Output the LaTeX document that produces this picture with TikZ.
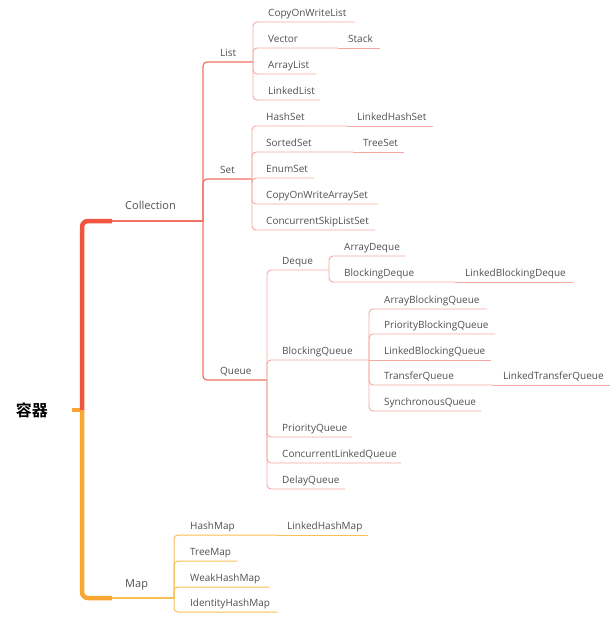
\documentclass[tikz,border=0pt]{standalone}
\usepackage{fontspec}
\setmainfont{Open Sans}
\newfontfamily\cjkbold{Noto Sans CJK SC Bold}
\definecolor{txtgray}{HTML}{505050}
\definecolor{trunkred}{HTML}{F2553F}
\definecolor{trunkorg}{HTML}{F9A732}
\definecolor{lonered}{HTML}{EF7264}
\definecolor{ltwopink}{HTML}{F4A8A0}
\definecolor{maporg}{HTML}{F8BF55}
\tikzset{
  lbl/.style={font=\fontsize{10}{12}\selectfont, text=txtgray, inner sep=0pt, anchor=base west},
  lblbig/.style={font=\fontsize{11}{13}\selectfont, text=txtgray, inner sep=0pt, anchor=base west},
  redone/.style={draw=lonered, line width=1.2pt, rounded corners=4pt},
  pinktwo/.style={draw=ltwopink, line width=0.9pt, rounded corners=4pt},
  orgtwo/.style={draw=maporg, line width=1pt, rounded corners=4pt},
}
\newcommand\mmkid[7]{%
  \node[lbl] (#1) at (#3,{#4-6}) {#6};
  \coordinate (#1-e) at (#5,#4);
  \draw[#7] (#2) |- (#1-e);}
\newcommand\mmnext[7]{%
  \node[lbl] (#1) at (#3,{#4-6}) {#6};
  \coordinate (#1-e) at (#5,#4);
  \draw[#7] (#2) -- (#1-e);}
\begin{document}
\begin{tikzpicture}[x=1pt,y=-1pt]
\useasboundingbox (0,0) rectangle (614,619);
% root
\node[font=\cjkbold\fontsize{16}{18}\selectfont, text=black, inner sep=0pt] (root) at (32,410) {容器};
\coordinate (root-s) at (72,410);
\coordinate (root-j) at (82,410);
\coordinate (coll-s) at (112,221);
\coordinate (coll-e) at (203,221);
\coordinate (map-s) at (112,598);
\coordinate (map-e) at (174,598);
\draw[trunkorg, line width=3.5pt] (root-s) -- (root-j);
\draw[trunkred, line width=4.5pt, rounded corners=6pt] (root-j) |- (coll-s);
\draw[trunkorg, line width=4.5pt, rounded corners=6pt] (root-j) |- (map-s);
\draw[lonered, line width=1.6pt] (coll-s) -- (coll-e);
\draw[maporg, line width=1.6pt] (map-s) -- (map-e);
\node[lblbig] (coll) at (125,209) {Collection};
\node[lblbig] (map) at (125,587) {Map};
% level 2 under Collection
\mmkid{list}{coll-e}{220}{62}{253}{List}{redone}
\mmkid{set}{coll-e}{220}{179}{252}{Set}{redone}
\mmkid{queue}{coll-e}{220}{380}{267}{Queue}{redone}
% List children
\mmkid{cowl}{list-e}{268}{22}{355}{CopyOnWriteList}{pinktwo}
\mmkid{vec}{list-e}{268}{48}{338}{Vector}{pinktwo}
\mmnext{stack}{vec-e}{348}{48}{380}{Stack}{pinktwo}
\mmkid{alist}{list-e}{268}{74}{316}{ArrayList}{pinktwo}
\mmkid{llist}{list-e}{268}{100}{320}{LinkedList}{pinktwo}
% Set children
\mmkid{hset}{set-e}{266}{126}{347}{HashSet}{pinktwo}
\mmnext{lhset}{hset-e}{357}{126}{433}{LinkedHashSet}{pinktwo}
\mmkid{sset}{set-e}{266}{152}{353}{SortedSet}{pinktwo}
\mmnext{tset}{sset-e}{363}{152}{404}{TreeSet}{pinktwo}
\mmkid{eset}{set-e}{266}{178}{314}{EnumSet}{pinktwo}
\mmkid{cowas}{set-e}{266}{204}{378}{CopyOnWriteArraySet}{pinktwo}
\mmkid{csls}{set-e}{266}{230}{375}{ConcurrentSkipListSet}{pinktwo}
% Queue children
\mmkid{deque}{queue-e}{282}{270}{329}{Deque}{pinktwo}
\mmkid{adeque}{deque-e}{344}{256}{405}{ArrayDeque}{pinktwo}
\mmkid{bdeque}{deque-e}{344}{282}{455}{BlockingDeque}{pinktwo}
\mmnext{lbdeque}{bdeque-e}{465}{282}{573}{LinkedBlockingDeque}{pinktwo}
\mmkid{bq}{queue-e}{282}{360}{369}{BlockingQueue}{pinktwo}
\mmkid{abq}{bq-e}{384}{309}{487}{ArrayBlockingQueue}{pinktwo}
\mmkid{pbq}{bq-e}{384}{334}{495}{PriorityBlockingQueue}{pinktwo}
\mmnext{lbq}{bq-e}{384}{360}{491}{LinkedBlockingQueue}{pinktwo}
\mmkid{tq}{bq-e}{384}{385}{493}{TransferQueue}{pinktwo}
\mmnext{ltq}{tq-e}{503}{385}{610}{LinkedTransferQueue}{pinktwo}
\mmkid{sq}{bq-e}{384}{411}{481}{SynchronousQueue}{pinktwo}
\mmkid{pq}{queue-e}{282}{437}{352}{PriorityQueue}{pinktwo}
\mmkid{clq}{queue-e}{282}{463}{401}{ConcurrentLinkedQueue}{pinktwo}
\mmkid{dq}{queue-e}{282}{489}{345}{DelayQueue}{pinktwo}
% Map children
\mmkid{hmap}{map-e}{190}{535}{277}{HashMap}{orgtwo}
\mmnext{lhmap}{hmap-e}{287}{535}{368}{LinkedHashMap}{orgtwo}
\mmkid{tmap}{map-e}{190}{561}{237}{TreeMap}{orgtwo}
\mmkid{whmap}{map-e}{190}{587}{269}{WeakHashMap}{orgtwo}
\mmkid{ihmap}{map-e}{190}{612}{277}{IdentityHashMap}{orgtwo}
\end{tikzpicture}
\end{document}
